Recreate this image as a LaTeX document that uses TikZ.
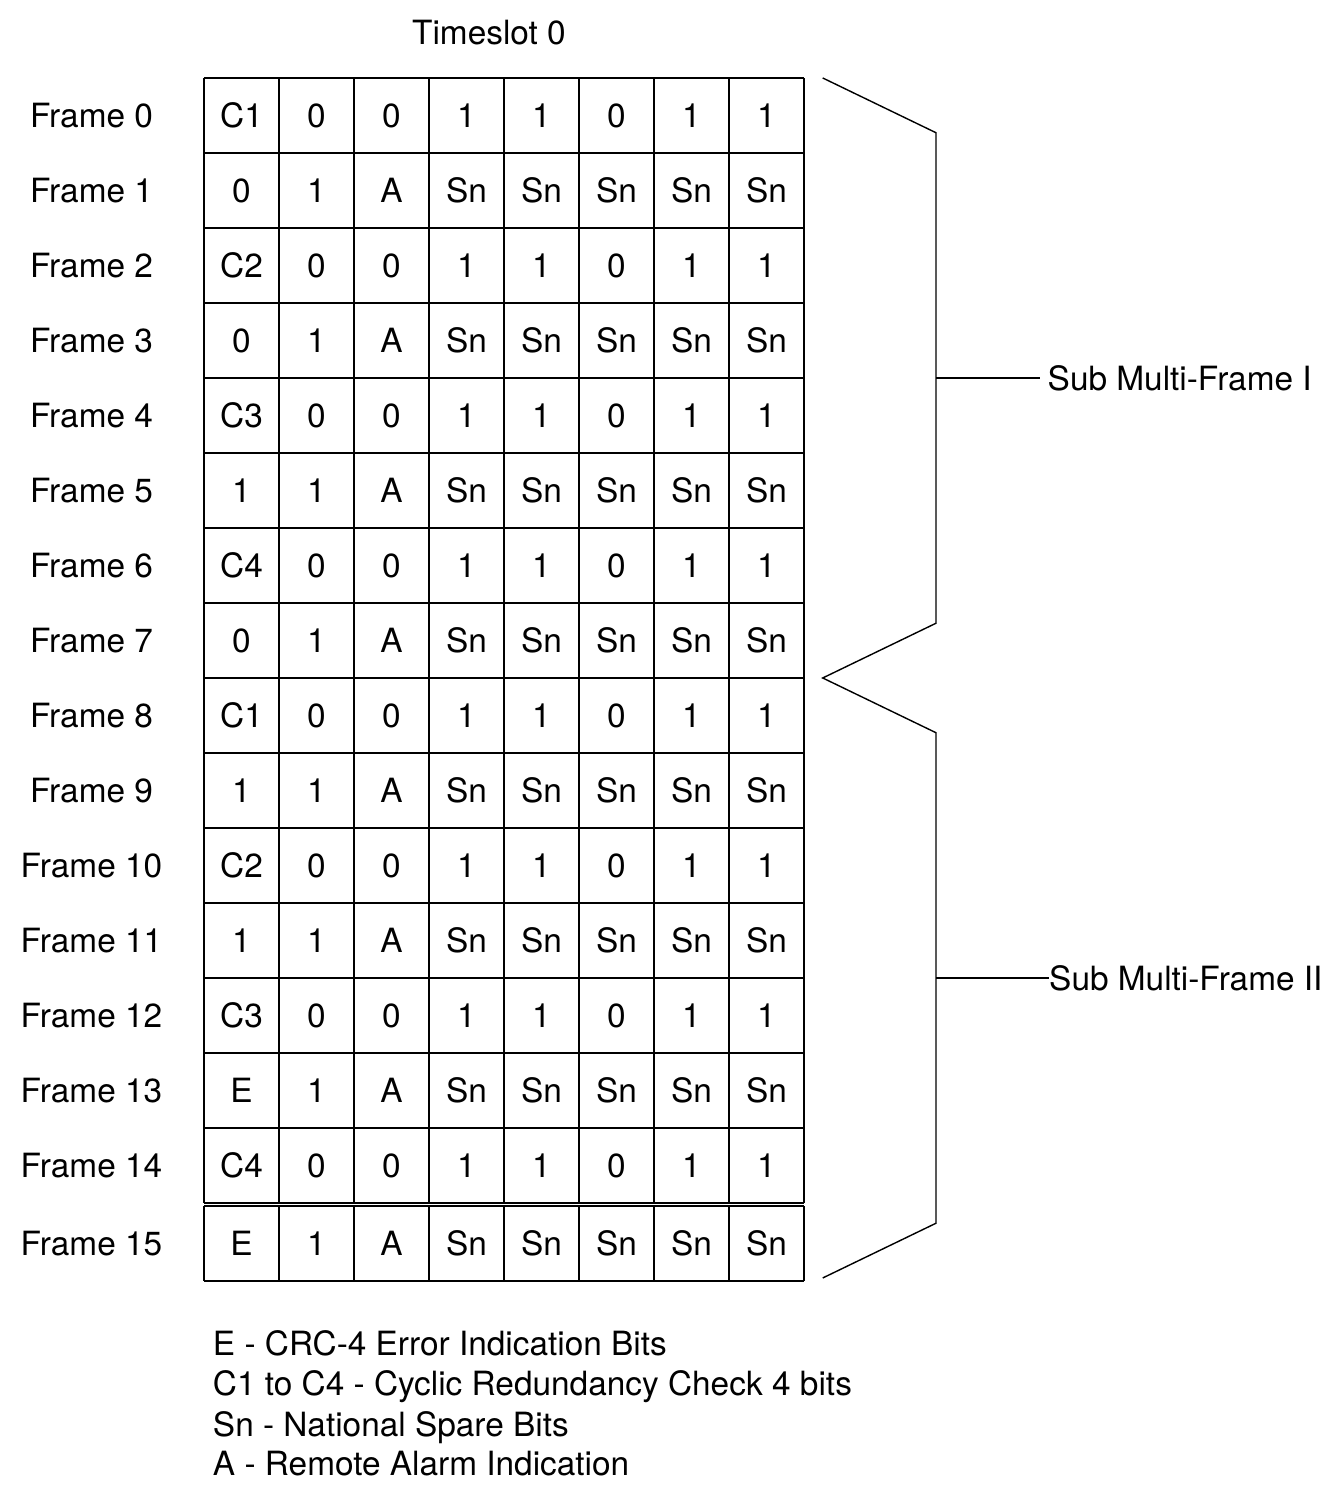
\documentclass[tikz,border=0pt]{standalone}
\usepackage{fontspec}
\setmainfont{TeX Gyre Heros}
\usepackage{tikz}

\begin{document}
\begin{tikzpicture}[x=1.5cm, y=1.5cm, line width=0.8pt,
  every node/.style={font=\fontsize{19}{22.8}\selectfont, inner sep=0pt, outer sep=0pt},
  cell/.style={text height=13.6pt, text depth=0pt},
  brace/.style={line width=0.8pt, line join=miter}]
\useasboundingbox (-2.72,-3.987) rectangle (15.16,16.04);

\node (slot) at (3.8,15.61) {Timeslot 0};

\node[cell] (fr0) at (-1.5,14.5) {Frame 0};
\node[cell] (fr1) at (-1.5,13.5) {Frame 1};
\node[cell] (fr2) at (-1.5,12.5) {Frame 2};
\node[cell] (fr3) at (-1.5,11.5) {Frame 3};
\node[cell] (fr4) at (-1.5,10.5) {Frame 4};
\node[cell] (fr5) at (-1.5,9.5) {Frame 5};
\node[cell] (fr6) at (-1.5,8.5) {Frame 6};
\node[cell] (fr7) at (-1.5,7.5) {Frame 7};
\node[cell] (fr8) at (-1.5,6.5) {Frame 8};
\node[cell] (fr9) at (-1.5,5.5) {Frame 9};
\node[cell] (fr10) at (-1.5,4.5) {Frame 10};
\node[cell] (fr11) at (-1.5,3.5) {Frame 11};
\node[cell] (fr12) at (-1.5,2.5) {Frame 12};
\node[cell] (fr13) at (-1.5,1.5) {Frame 13};
\node[cell] (fr14) at (-1.5,0.5) {Frame 14};
\node[cell] (fr15) at (-1.5,-0.54) {Frame 15};

\node[cell] (r0c1) at (0.5,14.5) {C1};
\node[cell] (r0c2) at (1.5,14.5) {0};
\node[cell] (r0c3) at (2.5,14.5) {0};
\node[cell] (r0c4) at (3.5,14.5) {1};
\node[cell] (r0c5) at (4.5,14.5) {1};
\node[cell] (r0c6) at (5.5,14.5) {0};
\node[cell] (r0c7) at (6.5,14.5) {1};
\node[cell] (r0c8) at (7.5,14.5) {1};

\node[cell] (r1c1) at (0.5,13.5) {0};
\node[cell] (r1c2) at (1.5,13.5) {1};
\node[cell] (r1c3) at (2.5,13.5) {A};
\node[cell] (r1c4) at (3.5,13.5) {Sn};
\node[cell] (r1c5) at (4.5,13.5) {Sn};
\node[cell] (r1c6) at (5.5,13.5) {Sn};
\node[cell] (r1c7) at (6.5,13.5) {Sn};
\node[cell] (r1c8) at (7.5,13.5) {Sn};

\node[cell] (r2c1) at (0.5,12.5) {C2};
\node[cell] (r2c2) at (1.5,12.5) {0};
\node[cell] (r2c3) at (2.5,12.5) {0};
\node[cell] (r2c4) at (3.5,12.5) {1};
\node[cell] (r2c5) at (4.5,12.5) {1};
\node[cell] (r2c6) at (5.5,12.5) {0};
\node[cell] (r2c7) at (6.5,12.5) {1};
\node[cell] (r2c8) at (7.5,12.5) {1};

\node[cell] (r3c1) at (0.5,11.5) {0};
\node[cell] (r3c2) at (1.5,11.5) {1};
\node[cell] (r3c3) at (2.5,11.5) {A};
\node[cell] (r3c4) at (3.5,11.5) {Sn};
\node[cell] (r3c5) at (4.5,11.5) {Sn};
\node[cell] (r3c6) at (5.5,11.5) {Sn};
\node[cell] (r3c7) at (6.5,11.5) {Sn};
\node[cell] (r3c8) at (7.5,11.5) {Sn};

\node[cell] (r4c1) at (0.5,10.5) {C3};
\node[cell] (r4c2) at (1.5,10.5) {0};
\node[cell] (r4c3) at (2.5,10.5) {0};
\node[cell] (r4c4) at (3.5,10.5) {1};
\node[cell] (r4c5) at (4.5,10.5) {1};
\node[cell] (r4c6) at (5.5,10.5) {0};
\node[cell] (r4c7) at (6.5,10.5) {1};
\node[cell] (r4c8) at (7.5,10.5) {1};

\node[cell] (r5c1) at (0.5,9.5) {1};
\node[cell] (r5c2) at (1.5,9.5) {1};
\node[cell] (r5c3) at (2.5,9.5) {A};
\node[cell] (r5c4) at (3.5,9.5) {Sn};
\node[cell] (r5c5) at (4.5,9.5) {Sn};
\node[cell] (r5c6) at (5.5,9.5) {Sn};
\node[cell] (r5c7) at (6.5,9.5) {Sn};
\node[cell] (r5c8) at (7.5,9.5) {Sn};

\node[cell] (r6c1) at (0.5,8.5) {C4};
\node[cell] (r6c2) at (1.5,8.5) {0};
\node[cell] (r6c3) at (2.5,8.5) {0};
\node[cell] (r6c4) at (3.5,8.5) {1};
\node[cell] (r6c5) at (4.5,8.5) {1};
\node[cell] (r6c6) at (5.5,8.5) {0};
\node[cell] (r6c7) at (6.5,8.5) {1};
\node[cell] (r6c8) at (7.5,8.5) {1};

\node[cell] (r7c1) at (0.5,7.5) {0};
\node[cell] (r7c2) at (1.5,7.5) {1};
\node[cell] (r7c3) at (2.5,7.5) {A};
\node[cell] (r7c4) at (3.5,7.5) {Sn};
\node[cell] (r7c5) at (4.5,7.5) {Sn};
\node[cell] (r7c6) at (5.5,7.5) {Sn};
\node[cell] (r7c7) at (6.5,7.5) {Sn};
\node[cell] (r7c8) at (7.5,7.5) {Sn};

\node[cell] (r8c1) at (0.5,6.5) {C1};
\node[cell] (r8c2) at (1.5,6.5) {0};
\node[cell] (r8c3) at (2.5,6.5) {0};
\node[cell] (r8c4) at (3.5,6.5) {1};
\node[cell] (r8c5) at (4.5,6.5) {1};
\node[cell] (r8c6) at (5.5,6.5) {0};
\node[cell] (r8c7) at (6.5,6.5) {1};
\node[cell] (r8c8) at (7.5,6.5) {1};

\node[cell] (r9c1) at (0.5,5.5) {1};
\node[cell] (r9c2) at (1.5,5.5) {1};
\node[cell] (r9c3) at (2.5,5.5) {A};
\node[cell] (r9c4) at (3.5,5.5) {Sn};
\node[cell] (r9c5) at (4.5,5.5) {Sn};
\node[cell] (r9c6) at (5.5,5.5) {Sn};
\node[cell] (r9c7) at (6.5,5.5) {Sn};
\node[cell] (r9c8) at (7.5,5.5) {Sn};

\node[cell] (r10c1) at (0.5,4.5) {C2};
\node[cell] (r10c2) at (1.5,4.5) {0};
\node[cell] (r10c3) at (2.5,4.5) {0};
\node[cell] (r10c4) at (3.5,4.5) {1};
\node[cell] (r10c5) at (4.5,4.5) {1};
\node[cell] (r10c6) at (5.5,4.5) {0};
\node[cell] (r10c7) at (6.5,4.5) {1};
\node[cell] (r10c8) at (7.5,4.5) {1};

\node[cell] (r11c1) at (0.5,3.5) {1};
\node[cell] (r11c2) at (1.5,3.5) {1};
\node[cell] (r11c3) at (2.5,3.5) {A};
\node[cell] (r11c4) at (3.5,3.5) {Sn};
\node[cell] (r11c5) at (4.5,3.5) {Sn};
\node[cell] (r11c6) at (5.5,3.5) {Sn};
\node[cell] (r11c7) at (6.5,3.5) {Sn};
\node[cell] (r11c8) at (7.5,3.5) {Sn};

\node[cell] (r12c1) at (0.5,2.5) {C3};
\node[cell] (r12c2) at (1.5,2.5) {0};
\node[cell] (r12c3) at (2.5,2.5) {0};
\node[cell] (r12c4) at (3.5,2.5) {1};
\node[cell] (r12c5) at (4.5,2.5) {1};
\node[cell] (r12c6) at (5.5,2.5) {0};
\node[cell] (r12c7) at (6.5,2.5) {1};
\node[cell] (r12c8) at (7.5,2.5) {1};

\node[cell] (r13c1) at (0.5,1.5) {E};
\node[cell] (r13c2) at (1.5,1.5) {1};
\node[cell] (r13c3) at (2.5,1.5) {A};
\node[cell] (r13c4) at (3.5,1.5) {Sn};
\node[cell] (r13c5) at (4.5,1.5) {Sn};
\node[cell] (r13c6) at (5.5,1.5) {Sn};
\node[cell] (r13c7) at (6.5,1.5) {Sn};
\node[cell] (r13c8) at (7.5,1.5) {Sn};

\node[cell] (r14c1) at (0.5,0.5) {C4};
\node[cell] (r14c2) at (1.5,0.5) {0};
\node[cell] (r14c3) at (2.5,0.5) {0};
\node[cell] (r14c4) at (3.5,0.5) {1};
\node[cell] (r14c5) at (4.5,0.5) {1};
\node[cell] (r14c6) at (5.5,0.5) {0};
\node[cell] (r14c7) at (6.5,0.5) {1};
\node[cell] (r14c8) at (7.5,0.5) {1};

\node[cell] (r15c1) at (0.5,-0.54) {E};
\node[cell] (r15c2) at (1.5,-0.54) {1};
\node[cell] (r15c3) at (2.5,-0.54) {A};
\node[cell] (r15c4) at (3.5,-0.54) {Sn};
\node[cell] (r15c5) at (4.5,-0.54) {Sn};
\node[cell] (r15c6) at (5.5,-0.54) {Sn};
\node[cell] (r15c7) at (6.5,-0.54) {Sn};
\node[cell] (r15c8) at (7.5,-0.54) {Sn};

\draw[step=1.5cm,color=black] (0,0) grid (8,15);
\draw[step=1.5cm,color=black,yshift=-0.06cm] (0,-1) grid (8,0);

\coordinate (top1) at (8.25,15);
\coordinate (tip) at (8.25,7);
\coordinate (end2) at (8.25,-1);
\coordinate (mid1) at (9.76,11);
\coordinate (mid2) at (9.76,3);
\draw[brace] (top1) -- (9.76,14.27) -- (9.76,7.73) -- (tip) -- (9.76,6.27) -- (9.76,-0.27) -- (end2);

\node[anchor=west] (sub1) at (11.25,11) {Sub Multi-Frame I};
\node[anchor=west] (sub2) at (11.27,3) {Sub Multi-Frame II};
\draw (mid1) -- ([xshift=-0.16cm]sub1.west);
\draw (mid2) -- (sub2.west);

\node[anchor=base west] (keyE) at (0.12,-2.04) {E - CRC-4 Error Indication Bits};
\node[anchor=base west] (keyC) at (0.12,-2.573) {C1 to C4 - Cyclic Redundancy Check 4 bits};
\node[anchor=base west] (keySn) at (0.12,-3.107) {Sn - National Spare Bits};
\node[anchor=base west] (keyA) at (0.12,-3.64) {A - Remote Alarm Indication};
\end{tikzpicture}
\end{document}
